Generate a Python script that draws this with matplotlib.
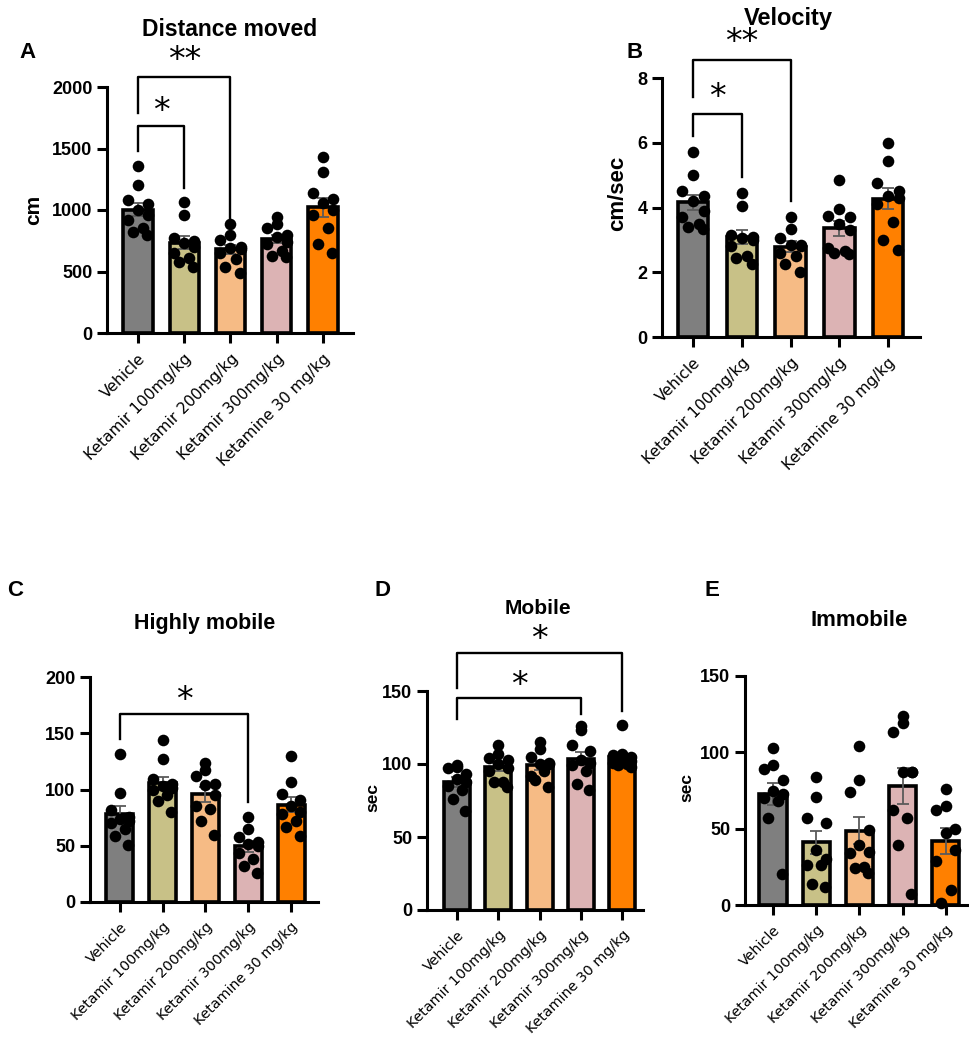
import numpy as np
import matplotlib
matplotlib.use("Agg")
import matplotlib.pyplot as plt

groups = ["Vehicle", "Ketamir 100mg/kg", "Ketamir 200mg/kg", "Ketamir 300mg/kg", "Ketamine 30 mg/kg"]
bar_colors = ["#7f7f7f", "#c8c187", "#f6bb85", "#dcb3b4", "#ff8000"]

# individual animals
distance = [
    [1360, 1200, 1080, 1050, 1000, 960, 920, 850, 820, 800],
    [1065, 960, 770, 750, 730, 700, 650, 610, 580, 540],
    [890, 800, 760, 700, 690, 680, 650, 600, 540, 490],
    [940, 890, 850, 800, 780, 740, 720, 670, 630, 620],
    [1430, 1310, 1140, 1090, 1060, 1000, 960, 850, 720, 650],
]
velocity = [
    [5.7, 5.0, 4.5, 4.35, 4.2, 3.9, 3.7, 3.5, 3.4, 3.35],
    [4.45, 4.05, 3.15, 3.1, 3.05, 3.0, 2.8, 2.5, 2.45, 2.25],
    [3.7, 3.35, 3.05, 2.85, 2.85, 2.8, 2.6, 2.5, 2.25, 2.0],
    [4.85, 3.95, 3.75, 3.7, 3.5, 3.3, 2.75, 2.65, 2.6, 2.55],
    [6.0, 5.45, 4.75, 4.5, 4.35, 4.3, 4.1, 3.55, 3.0, 2.7],
]
highly_mobile = [
    [132, 97, 82, 76, 74, 72, 70, 65, 59, 51],
    [144, 127, 109, 105, 103, 101, 100, 95, 90, 80],
    [124, 117, 112, 105, 104, 95, 85, 83, 72, 60],
    [76, 65, 58, 53, 52, 50, 44, 38, 32, 26],
    [130, 107, 96, 91, 85, 80, 78, 72, 67, 59],
]
mobile = [
    [99, 98, 97, 93, 90, 88, 85, 82, 76, 68],
    [113, 107, 104, 103, 100, 97, 95, 88, 88, 84],
    [115, 110, 105, 101, 100, 100, 92, 95, 89, 84],
    [126, 123, 113, 109, 103, 101, 99, 95, 86, 82],
    [127, 107, 106, 105, 104, 102, 101, 100, 99, 98],
]
immobile = [
    [103, 92, 89, 82, 75, 73, 70, 68, 57, 20],
    [84, 71, 57, 54, 36, 30, 26, 26, 14, 12],
    [104, 82, 74, 49, 39, 35, 34, 25, 24, 21],
    [124, 119, 113, 87, 87, 87, 62, 57, 39, 7],
    [76, 65, 62, 50, 47, 36, 29, 10, 1],
]

# brackets: (group a, group b, top, left leg end, right leg end, stars, star y)
brackets_a = [(0, 1, 1680, 1480, 1180, "*", 1830), (0, 2, 2080, 1790, 870, "**", 2240)]
brackets_b = [(0, 1, 6.9, 6.2, 4.95, "*", 7.5), (0, 2, 8.55, 7.4, 4.2, "**", 9.2)]
brackets_c = [(0, 3, 167, 145, 89, "*", 182)]
brackets_d = [(0, 3, 145, 131, 134, "*", 156), (0, 4, 176, 152, 136, "*", 188)]

W, H = 969, 1039
fig = plt.figure(figsize=(W / 100, H / 100), dpi=100)

jitter = [0.0, 0.0, -0.22, 0.22, 0.0, 0.22, -0.22, 0.11, -0.11, 0.2]


def rect(left, right, top, bottom):
    return [left / W, 1 - bottom / H, (right - left) / W, (bottom - top) / H]


def ftext(x, y, s, **kw):
    fig.text(x / W, 1 - y / H, s, ha="center", va="center", **kw)


def panel(r, data, ymax, yticks, xlim, brackets=(), label_size=10.3):
    ax = fig.add_axes(r)
    x = np.arange(len(groups))
    means = [np.mean(d) for d in data]
    sems = [np.std(d, ddof=1) / np.sqrt(len(d)) for d in data]
    ax.bar(x, means, width=0.63, color=bar_colors, edgecolor="black", linewidth=2.6, zorder=1)
    ax.errorbar(x, means, yerr=sems, fmt="none", ecolor="#5a5a5a", elinewidth=1.3,
                capsize=4, capthick=1.3, zorder=2)
    for i, d in enumerate(data):
        offs = np.array(jitter[:len(d)])
        ax.scatter(i + offs, d, s=70, color="black", zorder=3, clip_on=False, linewidths=0)
    for a, b, top, ya, yb, stars, sy in brackets:
        ax.plot([a, a, b, b], [ya, top, top, yb], color="black", lw=1.7, clip_on=False)
        ax.text((a + b) / 2, sy, stars, ha="center", va="center_baseline", fontsize=24,
                fontfamily="DejaVu Sans", clip_on=False)
    ax.set_xlim(*xlim)
    ax.set_ylim(0, ymax)
    ax.set_yticks(yticks)
    ax.set_yticklabels([str(t) for t in yticks], fontsize=13, fontweight="bold",
                       fontfamily="Liberation Sans")
    ax.set_xticks(x)
    ax.set_xticklabels(groups, rotation=45, ha="right", rotation_mode="anchor",
                       fontsize=label_size, fontfamily="DejaVu Sans")
    for s in ["top", "right"]:
        ax.spines[s].set_visible(False)
    for s in ["left", "bottom"]:
        ax.spines[s].set_linewidth(2.2)
    ax.tick_params(width=2.2, length=7)
    ax.tick_params(axis="x", pad=6)
    return ax


panel(rect(107, 353, 87, 333), distance, 2000, [0, 500, 1000, 1500, 2000], (-0.67, 4.65), brackets_a, 11.2)
panel(rect(662, 920, 78, 337), velocity, 8, [0, 2, 4, 6, 8], (-0.64, 4.66), brackets_b, 11.2)
panel(rect(90, 318, 677, 902), highly_mobile, 200, [0, 50, 100, 150, 200], (-0.70, 4.63), brackets_c)
panel(rect(427, 643, 691, 910), mobile, 150, [0, 50, 100, 150], (-0.73, 4.5), brackets_d)
panel(rect(745, 967, 676, 905), immobile, 150, [0, 50, 100, 150], (-0.65, 4.49))

bold = dict(fontweight="bold", fontfamily="Liberation Sans")
ftext(230, 30, "Distance moved", fontsize=16.5, **bold)
ftext(788, 18, "Velocity", fontsize=17, **bold)
ftext(205, 623, "Highly mobile", fontsize=15.5, **bold)
ftext(538, 608, "Mobile", fontsize=15, **bold)
ftext(859, 621, "Immobile", fontsize=16, **bold)

for letter, lx, ly in [("A", 27, 53), ("B", 635, 53), ("C", 15, 590), ("D", 383, 590), ("E", 712, 590)]:
    ftext(lx, ly, letter, fontsize=16, **bold)

ftext(34, 210, "cm", fontsize=15, rotation=90, **bold)
ftext(618, 193, "cm/sec", fontsize=16, rotation=90, **bold)
ftext(373, 797, "sec", fontsize=12.5, rotation=90, **bold)
ftext(687, 788, "sec", fontsize=12.5, rotation=90, **bold)

fig.savefig("out.png", dpi=100)
